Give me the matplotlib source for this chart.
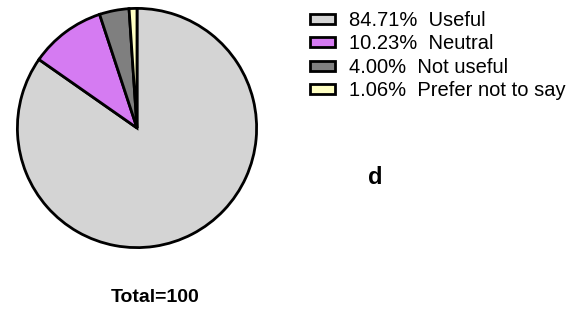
import matplotlib.pyplot as plt

plt.rcParams['font.family'] = ['Liberation Sans', 'DejaVu Sans']

labels = ["Useful", "Neutral", "Not useful", "Prefer not to say"]
values = [84.71, 10.23, 4.00, 1.06]
colors = ["#d4d4d4", "#d57bf2", "#7f7f7f", "#ffffc2"]

W, H = 582, 309
fig = plt.figure(figsize=(W / 100, H / 100), dpi=100)

cx, cy, r = 137, 128, 122
ax = fig.add_axes([(cx - r) / W, (H - cy - r) / H, 2 * r / W, 2 * r / H])
wedges, _ = ax.pie(values, colors=colors, startangle=90, counterclock=False,
                   wedgeprops=dict(edgecolor="black", linewidth=2))
ax.set_xlim(-1.02, 1.02)
ax.set_ylim(-1.02, 1.02)
ax.set_aspect("equal")

leg_labels = [f"{v:.2f}%  {l}" for v, l in zip(values, labels)]
leg = fig.legend(wedges, leg_labels, loc="upper left",
                 bbox_to_anchor=(306 / W, 1 - 7 / H), frameon=False,
                 fontsize=14.5, handlelength=1.25, handleheight=0.4,
                 handletextpad=0.7, labelspacing=0.22, borderpad=0.2,
                 borderaxespad=0)
for h in leg.legend_handles:
    h.set_linewidth(2)

fig.text(375 / W, 1 - 177 / H, "d", fontsize=17, fontweight="bold",
         ha="center", va="center")
fig.text(155 / W, 1 - 298 / H, "Total=100", fontsize=14, fontweight="bold",
         ha="center", va="center")

fig.savefig("out.png", dpi=100)
